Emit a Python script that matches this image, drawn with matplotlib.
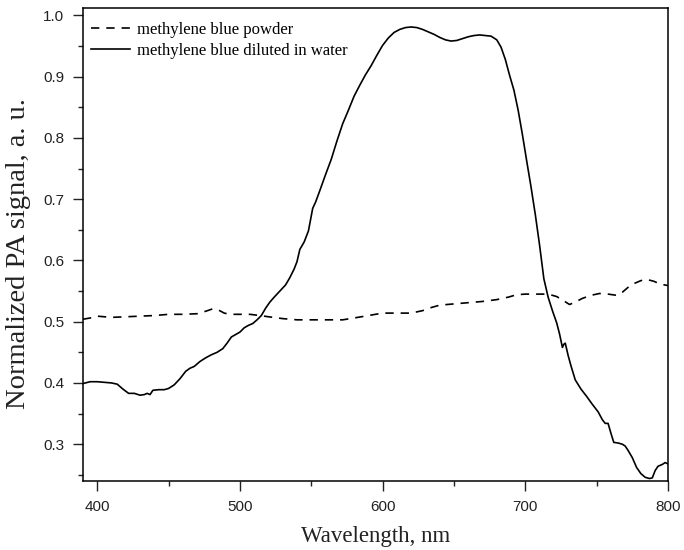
import matplotlib
matplotlib.use("Agg")
import matplotlib.pyplot as plt
from matplotlib.ticker import MultipleLocator

# methylene blue diluted in water (solid)
wl_water = [390, 395, 400, 405, 410, 414, 418, 422, 426, 430, 433, 435, 437, 439, 443,
            447, 450, 454, 458, 462, 465, 468, 472, 476, 480, 484, 488, 491, 494, 497,
            500, 503, 506, 509, 512, 515, 518, 521, 524, 528, 532, 535, 538, 540, 542,
            545, 548, 551, 553, 556, 560, 564, 568, 572, 576, 580, 584, 588, 592, 596,
            600, 604, 608, 612, 616, 620, 624, 628, 632, 636, 640, 644, 648, 652, 656,
            660, 664, 668, 672, 676, 680, 683, 686, 689, 692, 695, 698, 701, 704, 707,
            710, 713, 716, 719, 722, 724, 726, 727, 728, 730, 732, 735, 739, 743, 747,
            751, 754, 756, 758, 760, 762, 765, 768, 770, 772, 775, 778, 781, 784, 787,
            789, 791, 793, 796, 798, 800]
pa_water = [0.399, 0.402, 0.402, 0.401, 0.400, 0.398, 0.390, 0.383, 0.383, 0.380, 0.381,
            0.383, 0.381, 0.388, 0.389, 0.389, 0.391, 0.397, 0.407, 0.419, 0.424, 0.427,
            0.435, 0.441, 0.446, 0.450, 0.456, 0.465, 0.475, 0.479, 0.483, 0.490, 0.494,
            0.497, 0.503, 0.510, 0.522, 0.532, 0.540, 0.550, 0.560, 0.572, 0.586, 0.598,
            0.618, 0.630, 0.648, 0.685, 0.695, 0.714, 0.740, 0.765, 0.795, 0.823, 0.845,
            0.868, 0.886, 0.903, 0.918, 0.935, 0.951, 0.963, 0.972, 0.977, 0.980, 0.981,
            0.980, 0.977, 0.973, 0.969, 0.964, 0.960, 0.958, 0.959, 0.962, 0.965, 0.967,
            0.968, 0.967, 0.966, 0.960, 0.948, 0.928, 0.902, 0.878, 0.845, 0.805, 0.762,
            0.720, 0.675, 0.625, 0.570, 0.540, 0.518, 0.498, 0.480, 0.458, 0.463, 0.465,
            0.445, 0.428, 0.405, 0.390, 0.378, 0.365, 0.353, 0.340, 0.334, 0.334, 0.318,
            0.303, 0.302, 0.300, 0.297, 0.290, 0.278, 0.262, 0.252, 0.246, 0.244, 0.245,
            0.257, 0.264, 0.267, 0.270, 0.268]

# methylene blue powder (dashed)
wl_powder = [390, 395, 400, 405, 410, 420, 430, 440, 450, 460, 470, 476, 481, 485, 489,
             493, 500, 507, 514, 520, 530, 540, 550, 560, 572, 580, 590, 600, 610, 620,
             628, 634, 640, 650, 660, 670, 680, 688, 694, 700, 710, 716, 722, 727, 731,
             735, 740, 746, 752, 758, 764, 768, 772, 776, 781, 785, 790, 795, 800]
pa_powder = [0.504, 0.506, 0.509, 0.508, 0.507, 0.508, 0.509, 0.510, 0.512, 0.512, 0.513,
             0.517, 0.521, 0.519, 0.514, 0.512, 0.512, 0.512, 0.510, 0.508, 0.505, 0.503,
             0.503, 0.503, 0.503, 0.506, 0.510, 0.514, 0.514, 0.514, 0.518, 0.523, 0.527,
             0.529, 0.531, 0.533, 0.536, 0.540, 0.544, 0.545, 0.545, 0.545, 0.541, 0.534,
             0.528, 0.532, 0.538, 0.543, 0.546, 0.545, 0.543, 0.548, 0.556, 0.562, 0.567,
             0.569, 0.566, 0.561, 0.559]

plt.rcParams['lines.scale_dashes'] = False

fig = plt.figure(figsize=(6.84, 5.5), dpi=100)
ax = fig.add_axes([0.1213, 0.1255, 0.8553, 0.86])

ax.plot(wl_powder, pa_powder, color='black', lw=1.2, linestyle=(0, (6, 5)),
        label='methylene blue powder')
ax.plot(wl_water, pa_water, color='black', lw=1.2, label='methylene blue diluted in water')

ax.set_xlim(390, 800)
ax.set_ylim(0.24, 1.012)
ax.xaxis.set_major_locator(MultipleLocator(100))
ax.xaxis.set_minor_locator(MultipleLocator(50))
ax.yaxis.set_major_locator(MultipleLocator(0.1))
ax.yaxis.set_minor_locator(MultipleLocator(0.05))
ax.yaxis.set_major_formatter(plt.FormatStrFormatter('%.1f'))

for s in ax.spines.values():
    s.set_linewidth(1.1)
ax.tick_params(which='both', direction='out', width=1.0, color='#222222',
               labelsize=11, pad=6.5, labelcolor='#222222')
ax.tick_params(which='major', length=7)
ax.tick_params(which='minor', length=3.3)
for lab in ax.get_xticklabels() + ax.get_yticklabels():
    lab.set_family('Liberation Sans')

ax.set_xlabel('Wavelength, nm', family='Liberation Serif', fontsize=16.5, color='#222222',
              labelpad=9)
ax.set_ylabel('Normalized PA signal, a. u.', family='Liberation Serif', fontsize=20.5,
              color='#222222')
ax.yaxis.set_label_coords(-0.088, 0.48)

ax.legend(loc='upper left', bbox_to_anchor=(0.003, 0.985), frameon=False, handlelength=2.3,
          handletextpad=0.45, labelspacing=0.3, borderaxespad=0,
          prop={'family': 'Liberation Serif', 'size': 12})

fig.savefig('out.png', dpi=100)
